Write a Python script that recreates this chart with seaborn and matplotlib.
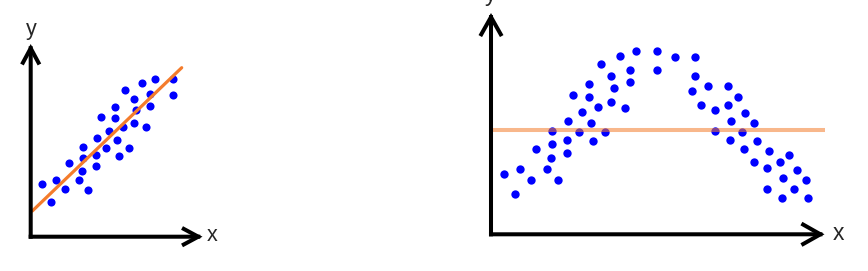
import matplotlib
matplotlib.use("Agg")
import matplotlib.pyplot as plt
import seaborn as sns
import numpy as np

# ---- data (arbitrary units) ----
# left panel: roughly linear data with a good linear fit
left_x = [1.13, 2.50, 2.06, 3.46, 3.86, 4.80, 5.73, 5.13, 5.26, 5.26, 6.50, 6.50,
          6.63, 7.06, 7.56, 7.83, 8.46, 8.46, 8.60, 8.80, 9.23, 9.43, 9.86, 10.30,
          10.30, 10.56, 11.13, 11.50, 11.93, 11.96, 12.46, 14.23, 14.23]
left_y = [5.27, 5.67, 3.50, 4.74, 7.37, 5.64, 4.70, 6.60, 7.84, 8.97, 7.04, 8.14,
          9.84, 12.00, 8.90, 10.54, 11.87, 13.00, 9.64, 8.10, 10.97, 14.67, 8.87, 13.74,
          11.40, 12.70, 15.37, 10.94, 14.24, 13.10, 15.80, 15.80, 14.17]
left_fit_x = [0.16, 15.10]
left_fit_y = [2.57, 16.90]

# right panel: arch-shaped data with a flat (underfitting) line
right_x = [1.33, 2.43, 2.93, 4.00, 4.53, 5.60, 6.67, 5.97, 6.10, 6.10, 7.57, 7.57,
           7.70, 8.20, 8.77, 9.10, 9.83, 9.83, 10.03, 10.23, 10.70, 10.97, 11.43, 11.97,
           11.97, 12.30, 12.93, 13.37, 13.90, 13.90, 14.50, 16.57, 16.57, 18.37, 20.40,
           20.40, 20.10, 21.70, 23.70, 24.67, 21.03, 22.40, 23.70, 24.03, 25.43, 26.33,
           22.43, 25.10, 23.90, 26.57, 25.27, 27.80, 29.83, 26.27, 27.57, 28.90, 30.57,
           29.20, 31.47, 27.60, 30.27, 29.07, 31.73]
right_y = [6.06, 4.03, 6.56, 5.46, 8.53, 6.50, 5.43, 7.63, 9.03, 10.33, 8.13, 9.43,
           11.36, 13.90, 10.26, 12.20, 13.73, 15.03, 11.16, 9.36, 12.70, 17.00, 10.23, 15.86,
           13.23, 14.66, 17.80, 12.63, 16.46, 15.20, 18.33, 18.33, 16.43, 17.73, 17.73,
           15.83, 14.30, 14.80, 14.80, 13.70, 12.96, 12.40, 12.90, 11.33, 12.13, 11.10,
           10.30, 10.23, 9.40, 9.33, 8.56, 8.33, 7.96, 7.23, 6.66, 7.20, 6.40,
           5.60, 5.40, 4.53, 4.50, 3.63, 3.60]
right_fit_x = [0.10, 33.50]
right_fit_y = [10.43, 10.43]

axis_labels = ["x", "y"]

W, H = 868, 271
sns.set_theme(style="white")
plt.rcParams["font.family"] = ["Liberation Sans", "DejaVu Sans"]

fig = plt.figure(figsize=(W / 100, H / 100), dpi=100)
fig.patch.set_facecolor("white")


def make_axes(ox, oy, tx, ty):
    # origin (ox, oy) and tips (tx, ty) in pixel coordinates from top-left
    rect = [ox / W, (H - oy) / H, (tx - ox) / W, (oy - ty) / H]
    ax = fig.add_axes(rect)
    ax.axis("off")
    return ax


def draw_arrows(ax, hl, hw, lw=2.9):
    style = f"->,head_length={hl},head_width={hw}"
    kw = dict(arrowstyle=style, lw=lw, color="black", mutation_scale=20,
              shrinkA=0, shrinkB=0, capstyle="projecting", joinstyle="miter")
    ax.annotate("", xy=(1, 0), xytext=(0, 0), xycoords="axes fraction",
                arrowprops=kw, annotation_clip=False)
    ax.annotate("", xy=(0, 1), xytext=(0, 0), xycoords="axes fraction",
                arrowprops=kw, annotation_clip=False)


# left panel
axL = make_axes(30.7, 236.7, 202.5, 44.0)
sns.scatterplot(x=left_x, y=left_y, ax=axL, color="#0000ff", s=34, linewidth=0, zorder=2)
sns.lineplot(x=left_fit_x, y=left_fit_y, ax=axL, color="#f47c2c", lw=2.3, zorder=3)
axL.set_xlim(0, (202.5 - 30.7) / 10)
axL.set_ylim(0, (236.7 - 44.0) / 10)
draw_arrows(axL, 0.52, 0.28)
fig.text(211.7 / W, 1 - 235.5 / H, axis_labels[0], ha="center", va="center", fontsize=15.5)
fig.text(30.9 / W, 1 - 29.2 / H, axis_labels[1], ha="center", va="center", fontsize=15.5)

# right panel
axR = make_axes(491.0, 234.3, 824.5, 13.0)
sns.scatterplot(x=right_x, y=right_y, ax=axR, color="#0000ff", s=36, linewidth=0, zorder=2)
sns.lineplot(x=right_fit_x, y=right_fit_y, ax=axR, color="#f47c2c", alpha=0.55, lw=2.9, zorder=3)
axR.set_xlim(0, (824.5 - 491.0) / 10)
axR.set_ylim(0, (234.3 - 13.0) / 10)
draw_arrows(axR, 0.62, 0.35)
fig.text(838.8 / W, 1 - 234.0 / H, axis_labels[0], ha="center", va="center", fontsize=16.5)
fig.text(490.5 / W, 1 - (-5.5) / H, axis_labels[1], ha="center", va="center", fontsize=16.5)

fig.savefig("out.png", dpi=100, facecolor="white")
